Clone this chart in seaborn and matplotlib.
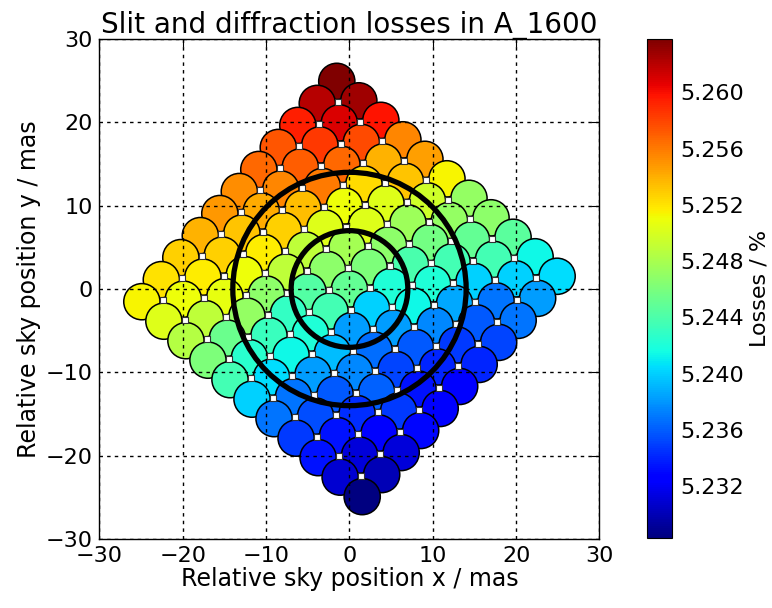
import numpy as np
import pandas as pd
import matplotlib
matplotlib.use('Agg')
import matplotlib.pyplot as plt
import seaborn as sns

# lattice of the spaxels: 11 x 11 grid, rotated, pitch in mas
grid_idx = [-5, -4, -3, -2, -1, 0, 1, 2, 3, 4, 5]
pitch = 3.53
angle_deg = -41.5

# losses in %, row = step down-left (j), column = step down-right (i)
loss_grid = [
    [5.2638, 5.2627, 5.2599, 5.2556, 5.2546, 5.2514, 5.2471, 5.2468, 5.2446, 5.2414, 5.2404],
    [5.2620, 5.2610, 5.2578, 5.2539, 5.2532, 5.2496, 5.2471, 5.2450, 5.2436, 5.2400, 5.2382],
    [5.2595, 5.2585, 5.2567, 5.2524, 5.2503, 5.2475, 5.2457, 5.2436, 5.2400, 5.2368, 5.2368],
    [5.2574, 5.2571, 5.2560, 5.2510, 5.2503, 5.2468, 5.2439, 5.2421, 5.2386, 5.2358, 5.2351],
    [5.2567, 5.2556, 5.2535, 5.2503, 5.2478, 5.2461, 5.2421, 5.2414, 5.2375, 5.2347, 5.2340],
    [5.2553, 5.2542, 5.2528, 5.2489, 5.2468, 5.2450, 5.2400, 5.2382, 5.2358, 5.2340, 5.2326],
    [5.2549, 5.2532, 5.2517, 5.2489, 5.2443, 5.2436, 5.2382, 5.2365, 5.2351, 5.2333, 5.2322],
    [5.2539, 5.2528, 5.2510, 5.2468, 5.2429, 5.2421, 5.2393, 5.2375, 5.2361, 5.2347, 5.2329],
    [5.2528, 5.2517, 5.2507, 5.2471, 5.2432, 5.2414, 5.2382, 5.2358, 5.2343, 5.2322, 5.2311],
    [5.2521, 5.2510, 5.2489, 5.2453, 5.2425, 5.2404, 5.2368, 5.2354, 5.2333, 5.2311, 5.2301],
    [5.2514, 5.2503, 5.2485, 5.2461, 5.2436, 5.2400, 5.2368, 5.2347, 5.2333, 5.2308, 5.2283],
]

ring_radii = [7.0, 14.0]
cbar_ticks = [5.232, 5.236, 5.240, 5.244, 5.248, 5.252, 5.256, 5.260]
axis_ticks = [-30, -20, -10, 0, 10, 20, 30]

# build positions of the rotated grid
th = np.deg2rad(angle_deg)
a_vec = pitch * np.array([np.cos(th), np.sin(th)])
b_vec = pitch * np.array([np.sin(th), -np.cos(th)])

rows = []
for j, jj in enumerate(grid_idx):
    for i, ii in enumerate(grid_idx):
        p = ii * a_vec + jj * b_vec
        rows.append({'x': p[0], 'y': p[1], 'loss': loss_grid[j][i]})
df = pd.DataFrame(rows).sort_values('y', ascending=False)

# small markers between the spaxels
half_idx = np.array(grid_idx[:-1]) + 0.5
sq = []
for jj in half_idx:
    for ii in half_idx:
        p = ii * a_vec + jj * b_vec
        sq.append({'x': p[0], 'y': p[1]})
sq = pd.DataFrame(sq)

vmin = df['loss'].min()
vmax = df['loss'].max()
jet = plt.get_cmap('jet')

sns.set_style('white')
plt.rcParams['font.family'] = ['DejaVu Sans']
plt.rcParams['text.color'] = 'black'
plt.rcParams['axes.labelcolor'] = 'black'
plt.rcParams['xtick.color'] = 'black'
plt.rcParams['ytick.color'] = 'black'

fig = plt.figure(figsize=(7.72, 6.08), dpi=100)
ax = fig.add_axes([0.1256, 0.1135, 0.6542, 0.8224])
cax = fig.add_axes([0.8377, 0.1151, 0.0324, 0.8207])

sns.scatterplot(data=df, x='x', y='y', hue='loss', palette=jet,
                hue_norm=(vmin, vmax), s=680, edgecolor='black',
                linewidth=1.1, legend=False, ax=ax, zorder=1)
sns.scatterplot(data=sq, x='x', y='y', marker='s', color='white',
                edgecolor='#333333', linewidth=0.8, s=18, legend=False,
                ax=ax, zorder=3)

for r in ring_radii:
    ax.add_patch(plt.Circle((0, 0), r, fill=False, lw=3.8,
                            color='black', zorder=4))

ax.set_xlim(-30, 30)
ax.set_ylim(-30, 30)
ax.set_aspect('equal', adjustable='box')
ax.set_xticks(axis_ticks)
ax.set_yticks(axis_ticks)
ax.grid(True, color='black', linestyle=(0, (2.5, 3)), linewidth=1.0)
ax.set_axisbelow(False)
ax.tick_params(direction='in', top=True, right=True, length=6,
               labelsize=16, pad=5)
for s in ax.spines.values():
    s.set_color('black')
    s.set_linewidth(1.0)

ax.set_xlabel('Relative sky position x / mas', fontsize=17, labelpad=1)
ax.set_ylabel('Relative sky position y / mas', fontsize=17, labelpad=3)
ax.set_title('Slit and diffraction losses in A_1600', fontsize=20, pad=4)

sm = plt.cm.ScalarMappable(cmap=jet, norm=plt.Normalize(vmin, vmax))
cb = fig.colorbar(sm, cax=cax, ticks=cbar_ticks)
cb.ax.set_yticklabels([f'{t:.3f}' for t in cbar_ticks])
cb.ax.tick_params(direction='in', length=8, labelsize=16, width=1, pad=6)
cb.outline.set_edgecolor('black')
cb.set_label('Losses / %', fontsize=16)

fig.savefig('out.png', dpi=100)
